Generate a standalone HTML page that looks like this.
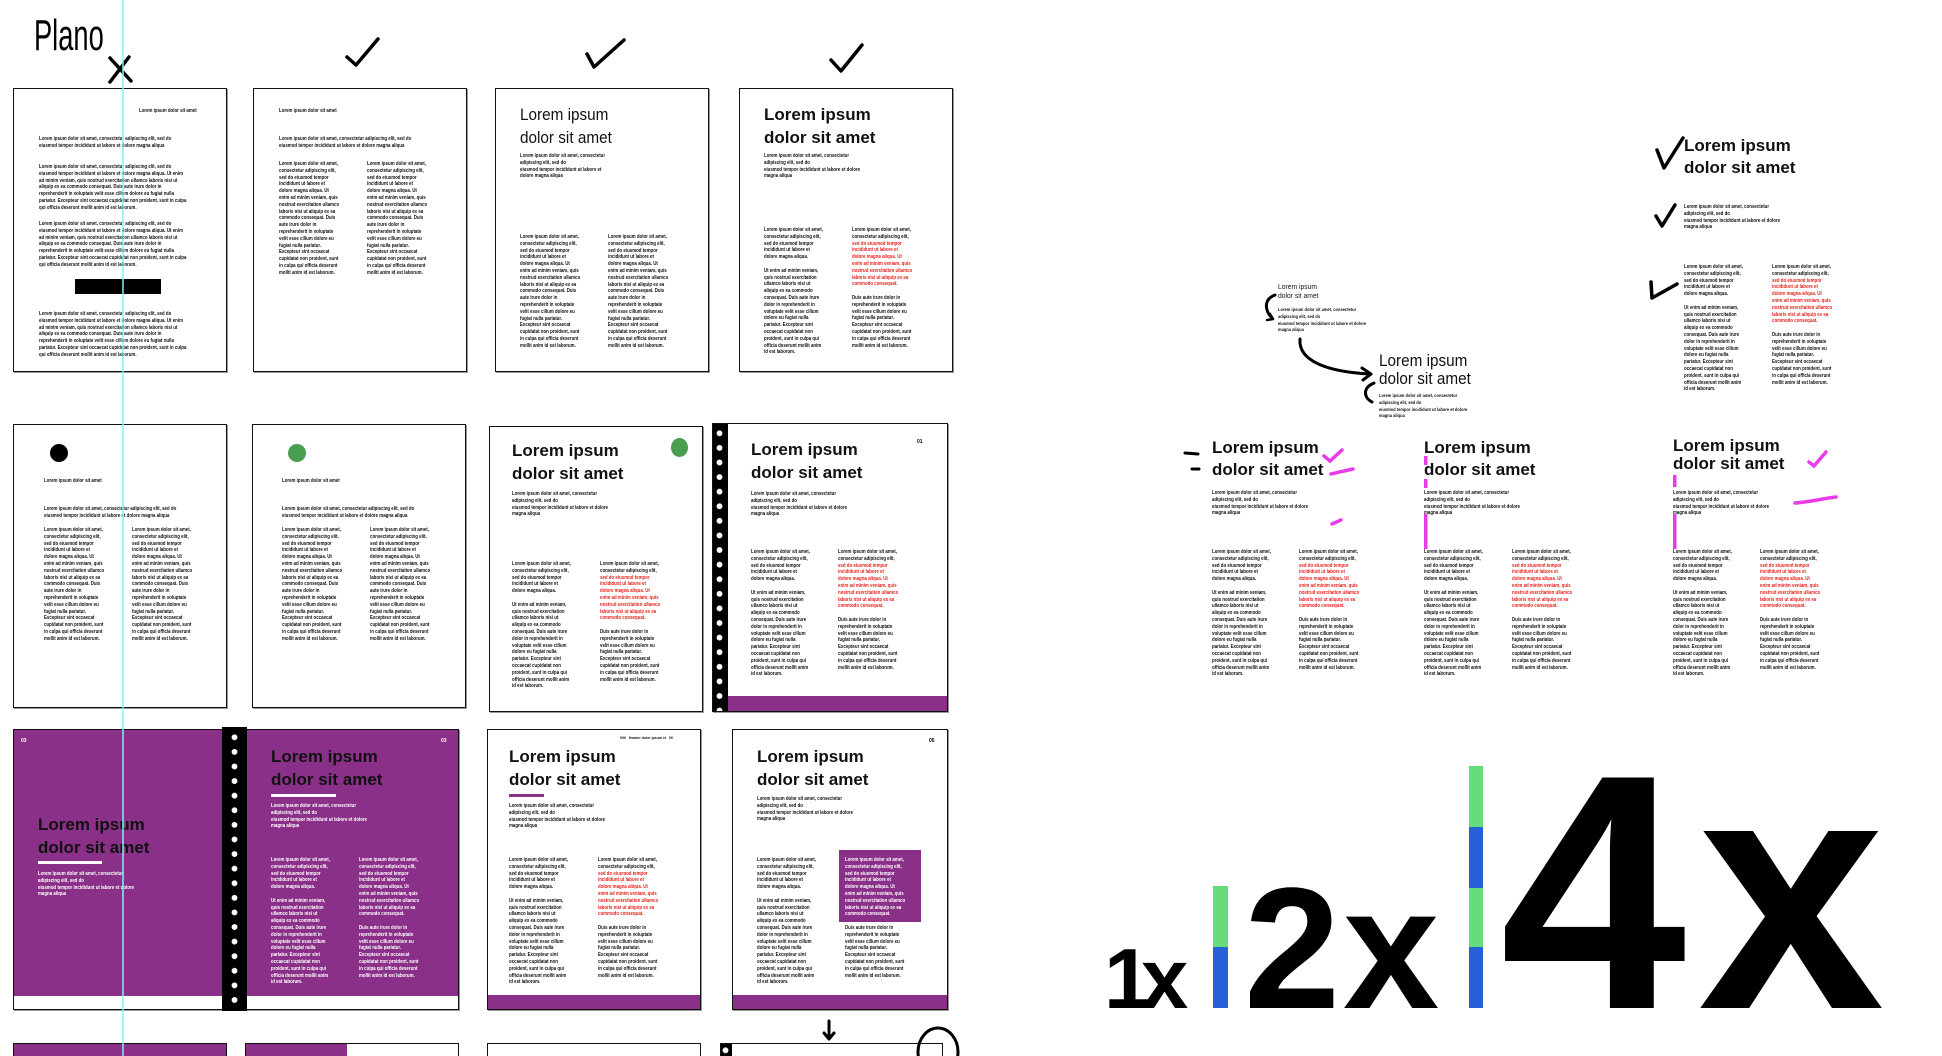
<!DOCTYPE html>
<html><head><meta charset="utf-8"><style>
*{margin:0;padding:0;box-sizing:border-box}
html{width:1942px;height:1056px;overflow:hidden}
body{width:1942px;height:1056px;overflow:hidden;background:#fff;position:relative;font-family:"Liberation Sans",sans-serif}
.pg{position:absolute;background:#fff;border:1.5px solid #111;box-shadow:1px 1px 0 #999;overflow:hidden}
.fr{position:absolute}
.b{position:absolute;white-space:pre;font-weight:bold;font-size:5px;line-height:6.8px;transform:scaleX(.88);transform-origin:0 0;color:#111}
.r{color:#e8231f}
.w{color:#fff}
.tt{position:absolute;white-space:pre;font-weight:bold;font-size:17px;line-height:23px;color:#111}
.tl{position:absolute;white-space:pre;font-weight:normal;font-size:17px;line-height:23px;color:#111;transform:scaleX(.9);transform-origin:0 0}
.pu{background:#8a3088}
.strip{position:absolute;background:#000 radial-gradient(circle,#fff 2.6px,transparent 3.2px) 0 4px/100% 14.6px repeat-y}
.num{position:absolute;font-weight:bold;font-size:5px}
.dot{position:absolute;border-radius:50%}
.r4{height:13px;border-bottom:0;box-shadow:none}
</style></head><body>

<!-- ROW 1 -->
<div class="pg" style="left:13px;top:88px;width:214px;height:284px">
<div class="b" style="left:125px;top:19px">Lorem ipsum dolor sit amet</div>
<div class="b" style="left:25px;top:47px">Lorem ipsum dolor sit amet, consectetur adipiscing elit, sed do
eiusmod tempor incididunt ut labore et dolore magna aliqua</div>
<div class="b" style="left:25px;top:75px">Lorem ipsum dolor sit amet, consectetur adipiscing elit, sed do
eiusmod tempor incididunt ut labore et dolore magna aliqua. Ut enim
ad minim veniam, quis nostrud exercitation ullamco laboris nisi ut
aliquip ex ea commodo consequat. Duis aute irure dolor in
reprehenderit in voluptate velit esse cillum dolore eu fugiat nulla
pariatur. Excepteur sint occaecat cupidatat non proident, sunt in culpa
qui officia deserunt mollit anim id est laborum.</div>
<div class="b" style="left:25px;top:132px">Lorem ipsum dolor sit amet, consectetur adipiscing elit, sed do
eiusmod tempor incididunt ut labore et dolore magna aliqua. Ut enim
ad minim veniam, quis nostrud exercitation ullamco laboris nisi ut
aliquip ex ea commodo consequat. Duis aute irure dolor in
reprehenderit in voluptate velit esse cillum dolore eu fugiat nulla
pariatur. Excepteur sint occaecat cupidatat non proident, sunt in culpa
qui officia deserunt mollit anim id est laborum.</div>
<div class="fr" style="left:61px;top:190px;width:86px;height:15px;background:#000"></div>
<div class="b" style="left:25px;top:222px">Lorem ipsum dolor sit amet, consectetur adipiscing elit, sed do
eiusmod tempor incididunt ut labore et dolore magna aliqua. Ut enim
ad minim veniam, quis nostrud exercitation ullamco laboris nisi ut
aliquip ex ea commodo consequat. Duis aute irure dolor in
reprehenderit in voluptate velit esse cillum dolore eu fugiat nulla
pariatur. Excepteur sint occaecat cupidatat non proident, sunt in culpa
qui officia deserunt mollit anim id est laborum.</div>
</div>

<div class="pg" style="left:253px;top:88px;width:214px;height:284px">
<div class="b" style="left:25px;top:19px">Lorem ipsum dolor sit amet</div>
<div class="b" style="left:25px;top:47px">Lorem ipsum dolor sit amet, consectetur adipiscing elit, sed do
eiusmod tempor incididunt ut labore et dolore magna aliqua</div>
<div class="b" style="left:25px;top:72px">Lorem ipsum dolor sit amet,
consectetur adipiscing elit,
sed do eiusmod tempor
incididunt ut labore et
dolore magna aliqua. Ut
enim ad minim veniam, quis
nostrud exercitation ullamco
laboris nisi ut aliquip ex ea
commodo consequat. Duis
aute irure dolor in
reprehenderit in voluptate
velit esse cillum dolore eu
fugiat nulla pariatur.
Excepteur sint occaecat
cupidatat non proident, sunt
in culpa qui officia deserunt
mollit anim id est laborum.</div>
<div class="b" style="left:113px;top:72px">Lorem ipsum dolor sit amet,
consectetur adipiscing elit,
sed do eiusmod tempor
incididunt ut labore et
dolore magna aliqua. Ut
enim ad minim veniam, quis
nostrud exercitation ullamco
laboris nisi ut aliquip ex ea
commodo consequat. Duis
aute irure dolor in
reprehenderit in voluptate
velit esse cillum dolore eu
fugiat nulla pariatur.
Excepteur sint occaecat
cupidatat non proident, sunt
in culpa qui officia deserunt
mollit anim id est laborum.</div>
</div>

<div class="pg" style="left:495px;top:88px;width:214px;height:284px">
<div class="tl" style="left:24px;top:14px">Lorem ipsum
dolor sit amet</div>
<div class="b" style="left:24px;top:64px">Lorem ipsum dolor sit amet, consectetur
adipiscing elit, sed do
eiusmod tempor incididunt ut labore et
dolore magna aliqua</div>
<div class="b" style="left:24px;top:145px">Lorem ipsum dolor sit amet,
consectetur adipiscing elit,
sed do eiusmod tempor
incididunt ut labore et
dolore magna aliqua. Ut
enim ad minim veniam, quis
nostrud exercitation ullamco
laboris nisi ut aliquip ex ea
commodo consequat. Duis
aute irure dolor in
reprehenderit in voluptate
velit esse cillum dolore eu
fugiat nulla pariatur.
Excepteur sint occaecat
cupidatat non proident, sunt
in culpa qui officia deserunt
mollit anim id est laborum.</div>
<div class="b" style="left:112px;top:145px">Lorem ipsum dolor sit amet,
consectetur adipiscing elit,
sed do eiusmod tempor
incididunt ut labore et
dolore magna aliqua. Ut
enim ad minim veniam, quis
nostrud exercitation ullamco
laboris nisi ut aliquip ex ea
commodo consequat. Duis
aute irure dolor in
reprehenderit in voluptate
velit esse cillum dolore eu
fugiat nulla pariatur.
Excepteur sint occaecat
cupidatat non proident, sunt
in culpa qui officia deserunt
mollit anim id est laborum.</div>
</div>

<div class="pg" style="left:739px;top:88px;width:214px;height:284px">
<div class="tt" style="left:24px;top:14px">Lorem ipsum
dolor sit amet</div>
<div class="b" style="left:24px;top:64px">Lorem ipsum dolor sit amet, consectetur
adipiscing elit, sed do
eiusmod tempor incididunt ut labore et dolore
magna aliqua</div>
<div class="b" style="left:24px;top:138px">Lorem ipsum dolor sit amet,
consectetur adipiscing elit,
sed do eiusmod tempor
incididunt ut labore et
dolore magna aliqua.

Ut enim ad minim veniam,
quis nostrud exercitation
ullamco laboris nisi ut
aliquip ex ea commodo
consequat. Duis aute irure
dolor in reprehenderit in
voluptate velit esse cillum
dolore eu fugiat nulla
pariatur. Excepteur sint
occaecat cupidatat non
proident, sunt in culpa qui
officia deserunt mollit anim
id est laborum.</div>
<div class="b" style="left:112px;top:138px">Lorem ipsum dolor sit amet,
consectetur adipiscing elit,
<span class="r">sed do eiusmod tempor
incididunt ut labore et
dolore magna aliqua. Ut
enim ad minim veniam, quis
nostrud exercitation ullamco
laboris nisi ut aliquip ex ea
commodo consequat.</span>

Duis aute irure dolor in
reprehenderit in voluptate
velit esse cillum dolore eu
fugiat nulla pariatur.
Excepteur sint occaecat
cupidatat non proident, sunt
in culpa qui officia deserunt
mollit anim id est laborum.</div>
</div>

<!-- ROW 2 -->
<div class="pg" style="left:13px;top:424px;width:214px;height:284px">
<div class="dot" style="left:36px;top:19px;width:18px;height:18px;background:#000"></div>
<div class="b" style="left:30px;top:53px">Lorem ipsum dolor sit amet</div>
<div class="b" style="left:30px;top:81px">Lorem ipsum dolor sit amet, consectetur adipiscing elit, sed do
eiusmod tempor incididunt ut labore et dolore magna aliqua</div>
<div class="b" style="left:30px;top:102px">Lorem ipsum dolor sit amet,
consectetur adipiscing elit,
sed do eiusmod tempor
incididunt ut labore et
dolore magna aliqua. Ut
enim ad minim veniam, quis
nostrud exercitation ullamco
laboris nisi ut aliquip ex ea
commodo consequat. Duis
aute irure dolor in
reprehenderit in voluptate
velit esse cillum dolore eu
fugiat nulla pariatur.
Excepteur sint occaecat
cupidatat non proident, sunt
in culpa qui officia deserunt
mollit anim id est laborum.</div>
<div class="b" style="left:118px;top:102px">Lorem ipsum dolor sit amet,
consectetur adipiscing elit,
sed do eiusmod tempor
incididunt ut labore et
dolore magna aliqua. Ut
enim ad minim veniam, quis
nostrud exercitation ullamco
laboris nisi ut aliquip ex ea
commodo consequat. Duis
aute irure dolor in
reprehenderit in voluptate
velit esse cillum dolore eu
fugiat nulla pariatur.
Excepteur sint occaecat
cupidatat non proident, sunt
in culpa qui officia deserunt
mollit anim id est laborum.</div>
</div>

<div class="pg" style="left:252px;top:424px;width:214px;height:284px">
<div class="dot" style="left:35px;top:19px;width:18px;height:18px;background:#4a9e50"></div>
<div class="b" style="left:29px;top:53px">Lorem ipsum dolor sit amet</div>
<div class="b" style="left:29px;top:81px">Lorem ipsum dolor sit amet, consectetur adipiscing elit, sed do
eiusmod tempor incididunt ut labore et dolore magna aliqua</div>
<div class="b" style="left:29px;top:102px">Lorem ipsum dolor sit amet,
consectetur adipiscing elit,
sed do eiusmod tempor
incididunt ut labore et
dolore magna aliqua. Ut
enim ad minim veniam, quis
nostrud exercitation ullamco
laboris nisi ut aliquip ex ea
commodo consequat. Duis
aute irure dolor in
reprehenderit in voluptate
velit esse cillum dolore eu
fugiat nulla pariatur.
Excepteur sint occaecat
cupidatat non proident, sunt
in culpa qui officia deserunt
mollit anim id est laborum.</div>
<div class="b" style="left:117px;top:102px">Lorem ipsum dolor sit amet,
consectetur adipiscing elit,
sed do eiusmod tempor
incididunt ut labore et
dolore magna aliqua. Ut
enim ad minim veniam, quis
nostrud exercitation ullamco
laboris nisi ut aliquip ex ea
commodo consequat. Duis
aute irure dolor in
reprehenderit in voluptate
velit esse cillum dolore eu
fugiat nulla pariatur.
Excepteur sint occaecat
cupidatat non proident, sunt
in culpa qui officia deserunt
mollit anim id est laborum.</div>
</div>

<div class="pg" style="left:489px;top:426px;width:214px;height:286px">
<div class="tt" style="left:22px;top:12px">Lorem ipsum
dolor sit amet</div>
<div class="dot" style="left:181px;top:11px;width:17px;height:19px;background:#4a9e50"></div>
<div class="b" style="left:22px;top:64px">Lorem ipsum dolor sit amet, consectetur
adipiscing elit, sed do
eiusmod tempor incididunt ut labore et dolore
magna aliqua</div>
<div class="b" style="left:22px;top:134px">Lorem ipsum dolor sit amet,
consectetur adipiscing elit,
sed do eiusmod tempor
incididunt ut labore et
dolore magna aliqua.

Ut enim ad minim veniam,
quis nostrud exercitation
ullamco laboris nisi ut
aliquip ex ea commodo
consequat. Duis aute irure
dolor in reprehenderit in
voluptate velit esse cillum
dolore eu fugiat nulla
pariatur. Excepteur sint
occaecat cupidatat non
proident, sunt in culpa qui
officia deserunt mollit anim
id est laborum.</div>
<div class="b" style="left:110px;top:134px">Lorem ipsum dolor sit amet,
consectetur adipiscing elit,
<span class="r">sed do eiusmod tempor
incididunt ut labore et
dolore magna aliqua. Ut
enim ad minim veniam, quis
nostrud exercitation ullamco
laboris nisi ut aliquip ex ea
commodo consequat.</span>

Duis aute irure dolor in
reprehenderit in voluptate
velit esse cillum dolore eu
fugiat nulla pariatur.
Excepteur sint occaecat
cupidatat non proident, sunt
in culpa qui officia deserunt
mollit anim id est laborum.</div>
</div>

<div class="pg" style="left:712px;top:423px;width:236px;height:289px">
<div class="strip" style="left:-2px;top:-2px;width:17px;height:292px"></div>
<div class="num" style="left:204px;top:15px">01</div>
<div class="tt" style="left:38px;top:14px">Lorem ipsum
dolor sit amet</div>
<div class="b" style="left:38px;top:67px">Lorem ipsum dolor sit amet, consectetur
adipiscing elit, sed do
eiusmod tempor incididunt ut labore et dolore
magna aliqua</div>
<div class="b" style="left:38px;top:125px">Lorem ipsum dolor sit amet,
consectetur adipiscing elit,
sed do eiusmod tempor
incididunt ut labore et
dolore magna aliqua.

Ut enim ad minim veniam,
quis nostrud exercitation
ullamco laboris nisi ut
aliquip ex ea commodo
consequat. Duis aute irure
dolor in reprehenderit in
voluptate velit esse cillum
dolore eu fugiat nulla
pariatur. Excepteur sint
occaecat cupidatat non
proident, sunt in culpa qui
officia deserunt mollit anim
id est laborum.</div>
<div class="b" style="left:125px;top:125px">Lorem ipsum dolor sit amet,
consectetur adipiscing elit,
<span class="r">sed do eiusmod tempor
incididunt ut labore et
dolore magna aliqua. Ut
enim ad minim veniam, quis
nostrud exercitation ullamco
laboris nisi ut aliquip ex ea
commodo consequat.</span>

Duis aute irure dolor in
reprehenderit in voluptate
velit esse cillum dolore eu
fugiat nulla pariatur.
Excepteur sint occaecat
cupidatat non proident, sunt
in culpa qui officia deserunt
mollit anim id est laborum.</div>
<div class="fr pu" style="left:15px;right:0;bottom:0;height:15px"></div>
</div>

<!-- ROW 3 -->
<div class="pg" style="left:13px;top:729px;width:211px;height:281px">
<div class="fr pu" style="left:0;top:0;right:0;height:266px"></div>
<div class="num w" style="left:7px;top:8px">03</div>
<div class="tt w" style="left:24px;top:83px">Lorem ipsum
dolor sit amet</div>
<div class="fr" style="left:24px;top:131px;width:64px;height:3px;background:#fff"></div>
<div class="b w" style="left:24px;top:141px">Lorem ipsum dolor sit amet, consectetur
adipiscing elit, sed do
eiusmod tempor incididunt ut labore et dolore
magna aliqua</div>
</div>

<div class="pg" style="left:245px;top:729px;width:214px;height:281px">
<div class="fr pu" style="left:0;top:0;right:0;height:266px"></div>
<div class="num w" style="left:195px;top:8px">03</div>
<div class="tt w" style="left:25px;top:15px">Lorem ipsum
dolor sit amet</div>
<div class="fr" style="left:25px;top:64px;width:65px;height:3px;background:#fff"></div>
<div class="b w" style="left:25px;top:73px">Lorem ipsum dolor sit amet, consectetur
adipiscing elit, sed do
eiusmod tempor incididunt ut labore et dolore
magna aliqua</div>
<div class="b w" style="left:25px;top:127px">Lorem ipsum dolor sit amet,
consectetur adipiscing elit,
sed do eiusmod tempor
incididunt ut labore et
dolore magna aliqua.

Ut enim ad minim veniam,
quis nostrud exercitation
ullamco laboris nisi ut
aliquip ex ea commodo
consequat. Duis aute irure
dolor in reprehenderit in
voluptate velit esse cillum
dolore eu fugiat nulla
pariatur. Excepteur sint
occaecat cupidatat non
proident, sunt in culpa qui
officia deserunt mollit anim
id est laborum.</div>
<div class="b w" style="left:113px;top:127px">Lorem ipsum dolor sit amet,
consectetur adipiscing elit,
sed do eiusmod tempor
incididunt ut labore et
dolore magna aliqua. Ut
enim ad minim veniam, quis
nostrud exercitation ullamco
laboris nisi ut aliquip ex ea
commodo consequat.

Duis aute irure dolor in
reprehenderit in voluptate
velit esse cillum dolore eu
fugiat nulla pariatur.
Excepteur sint occaecat
cupidatat non proident, sunt
in culpa qui officia deserunt
mollit anim id est laborum.</div>
</div>
<div class="strip" style="left:222px;top:727px;width:25px;height:284px;background-position:0 3px"></div>

<div class="pg" style="left:487px;top:729px;width:214px;height:281px">
<div class="b" style="left:132px;top:5px;font-size:4px">000   Header dolor ipsum et   00</div>
<div class="tt" style="left:21px;top:15px">Lorem ipsum
dolor sit amet</div>
<div class="fr pu" style="left:21px;top:64px;width:35px;height:3px"></div>
<div class="b" style="left:21px;top:73px">Lorem ipsum dolor sit amet, consectetur
adipiscing elit, sed do
eiusmod tempor incididunt ut labore et dolore
magna aliqua</div>
<div class="b" style="left:21px;top:127px">Lorem ipsum dolor sit amet,
consectetur adipiscing elit,
sed do eiusmod tempor
incididunt ut labore et
dolore magna aliqua.

Ut enim ad minim veniam,
quis nostrud exercitation
ullamco laboris nisi ut
aliquip ex ea commodo
consequat. Duis aute irure
dolor in reprehenderit in
voluptate velit esse cillum
dolore eu fugiat nulla
pariatur. Excepteur sint
occaecat cupidatat non
proident, sunt in culpa qui
officia deserunt mollit anim
id est laborum.</div>
<div class="b" style="left:110px;top:127px">Lorem ipsum dolor sit amet,
consectetur adipiscing elit,
<span class="r">sed do eiusmod tempor
incididunt ut labore et
dolore magna aliqua. Ut
enim ad minim veniam, quis
nostrud exercitation ullamco
laboris nisi ut aliquip ex ea
commodo consequat.</span>

Duis aute irure dolor in
reprehenderit in voluptate
velit esse cillum dolore eu
fugiat nulla pariatur.
Excepteur sint occaecat
cupidatat non proident, sunt
in culpa qui officia deserunt
mollit anim id est laborum.</div>
<div class="fr pu" style="left:0;right:0;bottom:0;height:14px"></div>
</div>

<div class="pg" style="left:732px;top:729px;width:216px;height:281px">
<div class="num" style="left:196px;top:8px">05</div>
<div class="tt" style="left:24px;top:15px">Lorem ipsum
dolor sit amet</div>
<div class="b" style="left:24px;top:66px">Lorem ipsum dolor sit amet, consectetur
adipiscing elit, sed do
eiusmod tempor incididunt ut labore et dolore
magna aliqua</div>
<div class="fr pu" style="left:106px;top:120px;width:82px;height:72px"></div>
<div class="b" style="left:24px;top:127px">Lorem ipsum dolor sit amet,
consectetur adipiscing elit,
sed do eiusmod tempor
incididunt ut labore et
dolore magna aliqua.

Ut enim ad minim veniam,
quis nostrud exercitation
ullamco laboris nisi ut
aliquip ex ea commodo
consequat. Duis aute irure
dolor in reprehenderit in
voluptate velit esse cillum
dolore eu fugiat nulla
pariatur. Excepteur sint
occaecat cupidatat non
proident, sunt in culpa qui
officia deserunt mollit anim
id est laborum.</div>
<div class="b" style="left:112px;top:127px"><span class="w">Lorem ipsum dolor sit amet,
consectetur adipiscing elit,
sed do eiusmod tempor
incididunt ut labore et
dolore magna aliqua. Ut
enim ad minim veniam, quis
nostrud exercitation ullamco
laboris nisi ut aliquip ex ea
commodo consequat.</span>

Duis aute irure dolor in
reprehenderit in voluptate
velit esse cillum dolore eu
fugiat nulla pariatur.
Excepteur sint occaecat
cupidatat non proident, sunt
in culpa qui officia deserunt
mollit anim id est laborum.</div>
<div class="fr pu" style="left:0;right:0;bottom:0;height:14px"></div>
</div>

<!-- ROW 4 (partial, clipped at bottom) -->
<div class="pg r4" style="left:13px;top:1043px;width:214px"><div class="fr pu" style="left:0;top:0;right:0;bottom:0"></div></div>
<div class="pg r4" style="left:245px;top:1043px;width:214px"><div class="fr pu" style="left:0;top:0;width:101px;bottom:0"></div></div>
<div class="pg r4" style="left:487px;top:1043px;width:214px"></div>
<div class="pg r4" style="left:720px;top:1043px;width:223px"><div class="strip" style="left:-2px;top:-2px;width:13px;height:20px;background-position:0 1px"></div></div>

<!-- RIGHT: top-right sketch -->
<div class="tt" style="left:1684px;top:135px;line-height:22px">Lorem ipsum
dolor sit amet</div>
<div class="b" style="left:1684px;top:204px">Lorem ipsum dolor sit amet, consectetur
adipiscing elit, sed do
eiusmod tempor incididunt ut labore et dolore
magna aliqua</div>
<div class="b" style="left:1684px;top:264px">Lorem ipsum dolor sit amet,
consectetur adipiscing elit,
sed do eiusmod tempor
incididunt ut labore et
dolore magna aliqua.

Ut enim ad minim veniam,
quis nostrud exercitation
ullamco laboris nisi ut
aliquip ex ea commodo
consequat. Duis aute irure
dolor in reprehenderit in
voluptate velit esse cillum
dolore eu fugiat nulla
pariatur. Excepteur sint
occaecat cupidatat non
proident, sunt in culpa qui
officia deserunt mollit anim
id est laborum.</div>
<div class="b" style="left:1772px;top:264px">Lorem ipsum dolor sit amet,
consectetur adipiscing elit,
<span class="r">sed do eiusmod tempor
incididunt ut labore et
dolore magna aliqua. Ut
enim ad minim veniam, quis
nostrud exercitation ullamco
laboris nisi ut aliquip ex ea
commodo consequat.</span>

Duis aute irure dolor in
reprehenderit in voluptate
velit esse cillum dolore eu
fugiat nulla pariatur.
Excepteur sint occaecat
cupidatat non proident, sunt
in culpa qui officia deserunt
mollit anim id est laborum.</div>

<!-- middle sketch -->
<div class="tl" style="left:1278px;top:282px;font-size:7.5px;line-height:9px">Lorem ipsum
dolor sit amet</div>
<div class="b" style="left:1278px;top:307px;font-size:4.6px;line-height:6.8px">Lorem ipsum dolor sit amet, consectetur
adipiscing elit, sed do
eiusmod tempor incididunt ut labore et dolore
magna aliqua</div>
<div class="tl" style="left:1379px;top:352px;font-size:17px;line-height:18px">Lorem ipsum
dolor sit amet</div>
<div class="b" style="left:1379px;top:393px;font-size:4.6px;line-height:6.8px">Lorem ipsum dolor sit amet, consectetur
adipiscing elit, sed do
eiusmod tempor incididunt ut labore et dolore
magna aliqua</div>

<!-- three variants -->
<div class="tt" style="left:1212px;top:437px;line-height:22px">Lorem ipsum
dolor sit amet</div>
<div class="b" style="left:1212px;top:490px">Lorem ipsum dolor sit amet, consectetur
adipiscing elit, sed do
eiusmod tempor incididunt ut labore et dolore
magna aliqua</div>
<div class="b" style="left:1212px;top:549px">Lorem ipsum dolor sit amet,
consectetur adipiscing elit,
sed do eiusmod tempor
incididunt ut labore et
dolore magna aliqua.

Ut enim ad minim veniam,
quis nostrud exercitation
ullamco laboris nisi ut
aliquip ex ea commodo
consequat. Duis aute irure
dolor in reprehenderit in
voluptate velit esse cillum
dolore eu fugiat nulla
pariatur. Excepteur sint
occaecat cupidatat non
proident, sunt in culpa qui
officia deserunt mollit anim
id est laborum.</div>
<div class="b" style="left:1299px;top:549px">Lorem ipsum dolor sit amet,
consectetur adipiscing elit,
<span class="r">sed do eiusmod tempor
incididunt ut labore et
dolore magna aliqua. Ut
enim ad minim veniam, quis
nostrud exercitation ullamco
laboris nisi ut aliquip ex ea
commodo consequat.</span>

Duis aute irure dolor in
reprehenderit in voluptate
velit esse cillum dolore eu
fugiat nulla pariatur.
Excepteur sint occaecat
cupidatat non proident, sunt
in culpa qui officia deserunt
mollit anim id est laborum.</div>

<div class="tt" style="left:1424px;top:437px;line-height:22px">Lorem ipsum
dolor sit amet</div>
<div class="b" style="left:1424px;top:490px">Lorem ipsum dolor sit amet, consectetur
adipiscing elit, sed do
eiusmod tempor incididunt ut labore et dolore
magna aliqua</div>
<div class="b" style="left:1424px;top:549px">Lorem ipsum dolor sit amet,
consectetur adipiscing elit,
sed do eiusmod tempor
incididunt ut labore et
dolore magna aliqua.

Ut enim ad minim veniam,
quis nostrud exercitation
ullamco laboris nisi ut
aliquip ex ea commodo
consequat. Duis aute irure
dolor in reprehenderit in
voluptate velit esse cillum
dolore eu fugiat nulla
pariatur. Excepteur sint
occaecat cupidatat non
proident, sunt in culpa qui
officia deserunt mollit anim
id est laborum.</div>
<div class="b" style="left:1512px;top:549px">Lorem ipsum dolor sit amet,
consectetur adipiscing elit,
<span class="r">sed do eiusmod tempor
incididunt ut labore et
dolore magna aliqua. Ut
enim ad minim veniam, quis
nostrud exercitation ullamco
laboris nisi ut aliquip ex ea
commodo consequat.</span>

Duis aute irure dolor in
reprehenderit in voluptate
velit esse cillum dolore eu
fugiat nulla pariatur.
Excepteur sint occaecat
cupidatat non proident, sunt
in culpa qui officia deserunt
mollit anim id est laborum.</div>

<div class="tt" style="left:1673px;top:437px;line-height:18px">Lorem ipsum
dolor sit amet</div>
<div class="b" style="left:1673px;top:490px">Lorem ipsum dolor sit amet, consectetur
adipiscing elit, sed do
eiusmod tempor incididunt ut labore et dolore
magna aliqua</div>
<div class="b" style="left:1673px;top:549px">Lorem ipsum dolor sit amet,
consectetur adipiscing elit,
sed do eiusmod tempor
incididunt ut labore et
dolore magna aliqua.

Ut enim ad minim veniam,
quis nostrud exercitation
ullamco laboris nisi ut
aliquip ex ea commodo
consequat. Duis aute irure
dolor in reprehenderit in
voluptate velit esse cillum
dolore eu fugiat nulla
pariatur. Excepteur sint
occaecat cupidatat non
proident, sunt in culpa qui
officia deserunt mollit anim
id est laborum.</div>
<div class="b" style="left:1760px;top:549px">Lorem ipsum dolor sit amet,
consectetur adipiscing elit,
<span class="r">sed do eiusmod tempor
incididunt ut labore et
dolore magna aliqua. Ut
enim ad minim veniam, quis
nostrud exercitation ullamco
laboris nisi ut aliquip ex ea
commodo consequat.</span>

Duis aute irure dolor in
reprehenderit in voluptate
velit esse cillum dolore eu
fugiat nulla pariatur.
Excepteur sint occaecat
cupidatat non proident, sunt
in culpa qui officia deserunt
mollit anim id est laborum.</div>

<!-- overlay drawings -->
<svg width="1942" height="1056" style="position:absolute;left:0;top:0" xmlns="http://www.w3.org/2000/svg">
<text x="34" y="50" font-family="Liberation Sans, sans-serif" font-size="44" transform="translate(34 0) scale(0.62 1) translate(-34 0)" fill="#000">Plano</text>
<g fill="none" stroke="#000" stroke-width="3.5" stroke-linecap="round" stroke-linejoin="round">
<path d="M110 58 L131 81 M129 57 L110 82"/>
<path d="M347 57 L356 65 L378 39"/>
<path d="M587 54 L594 67 L624 40"/>
<path d="M831 60 L841 71 L862 45"/>
<path d="M1657 150 L1664 168 L1683 138"/>
<path d="M1656 216 L1662 226 L1675 205"/>
<path d="M1651 282 L1652 298 L1677 284"/>
<path d="M1300 339 C1298 362 1330 372 1370 374" stroke-width="3"/>
<path d="M1362 368 L1371 374 L1363 380" stroke-width="3"/>
<path d="M1275 295 C1262 300 1266 312 1272 318" stroke-width="3"/>
<path d="M1270 314 L1273 319 L1267 320" stroke-width="2.5"/>
<path d="M1374 383 C1362 388 1364 398 1372 402" stroke-width="3"/>
<path d="M1185 453 L1198 454 M1192 469 L1199 469" stroke-width="3"/>
<path d="M829 1021 L829 1037 M824 1033 L829 1039 L834 1033" stroke-width="3"/>
<ellipse cx="938" cy="1052" rx="20" ry="24" stroke-width="3"/>
</g>
<g fill="none" stroke="#e83ce8" stroke-width="3.5" stroke-linecap="round">
<path d="M1324 456 L1330 461 L1342 450"/>
<path d="M1331 474 C1340 472 1348 470 1353 469"/>
<path d="M1332 524 L1341 520"/>
<path d="M1809 462 L1814 466 L1826 452"/>
<path d="M1795 503 C1810 502 1825 498 1836 497"/>
</g>
<g fill="#e83ce8">
<rect x="1424" y="456" width="3.5" height="9"/>
<rect x="1424" y="479" width="3.5" height="9"/>
<rect x="1424" y="514" width="3.5" height="35"/>
<rect x="1673" y="475" width="3.5" height="12"/>
<rect x="1673" y="514" width="3.5" height="35"/>
</g>
<line x1="123" y1="0" x2="123" y2="1056" stroke="#7ff3f7" stroke-width="1.5"/>
<g font-family="Liberation Sans, sans-serif" font-weight="bold" fill="#000">
<text x="1104" y="1008" font-size="85">1</text>
<text x="1141" y="1008" font-size="85">x</text>
<text x="1244" y="1008" font-size="173">2</text>
<text x="1343" y="1008" font-size="173">x</text>
<text x="1500" y="1008" font-size="335">4</text>
<text x="1698" y="1008" font-size="335">x</text>
</g>
<rect x="1213" y="886" width="15" height="61" fill="#66dc7a"/>
<rect x="1213" y="947" width="15" height="61" fill="#2760d8"/>
<rect x="1469" y="766" width="14" height="61" fill="#66dc7a"/>
<rect x="1469" y="827" width="14" height="61" fill="#2760d8"/>
<rect x="1469" y="888" width="14" height="59" fill="#66dc7a"/>
<rect x="1469" y="947" width="14" height="61" fill="#2760d8"/>
</svg>
</body></html>
